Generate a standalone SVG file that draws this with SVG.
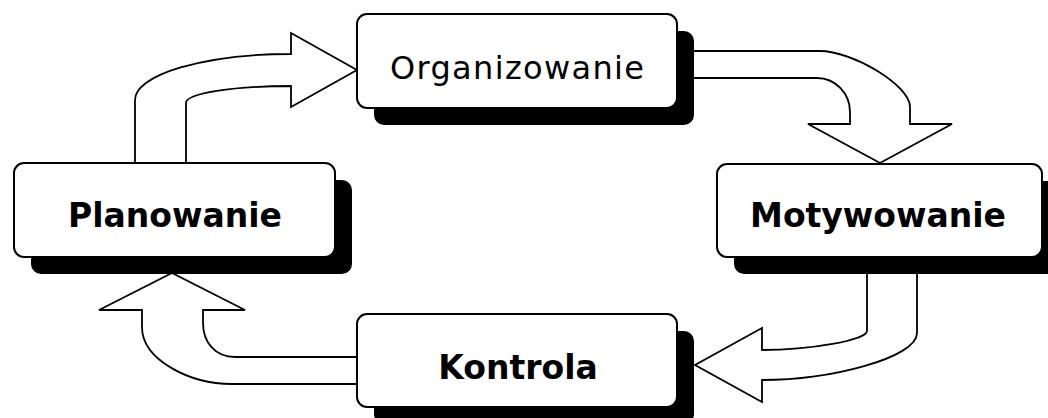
<svg xmlns="http://www.w3.org/2000/svg" width="1048" height="418" viewBox="0 0 1048 418">
<style>
.box{fill:#fff;stroke:#000;stroke-width:2}
.shadow{fill:#000}
.arrow{fill:#fff;stroke:#000;stroke-width:1.8;stroke-linejoin:miter}
.lbl{font-family:"DejaVu Sans","Liberation Sans",sans-serif;font-weight:bold;font-size:33px;text-anchor:middle;fill:#000}
.lbl2{font-family:"DejaVu Sans","Liberation Sans",sans-serif;font-size:32px;text-anchor:middle;fill:#000}
</style>
<rect width="1048" height="418" fill="#fff"/>
<g id="connectors">
<path class="arrow" d="M135,170 L135,100 A156,46 0 0 1 291,54 L291,33 L357,70 L291,107 L291,86 A105,17 0 0 0 186,103 L186,170"/>
<path class="arrow" d="M670,51 L820,51 C852,51 910,85 910,107 L910,124 L952,124 L880,163 L808,124 L850,124 L850,112 C850,93 835,78 817,78 L670,78"/>
<path class="arrow" d="M867,265 L867,331 C867,340 810,350 762,350 L762,328 L695,365 L762,402 L762,380 C830,380 917,358 917,333 L917,265"/>
<path class="arrow" d="M365,384 L232,384 C190,384 142,360 142,327 L142,310 L99,310 L172,273 L245,310 L203,310 L203,323 C203,342 215,357 235,357 L365,357"/>
</g>
<g id="node-planowanie">
<rect class="shadow" x="31" y="180" width="321" height="94" rx="10"/>
<rect class="box" x="14" y="163" width="321" height="94" rx="10"/>
<text class="lbl" x="175" y="227">Planowanie</text>
</g>
<g id="node-organizowanie">
<rect class="shadow" x="374" y="31" width="320" height="94" rx="10"/>
<rect class="box" x="357" y="14" width="320" height="94" rx="10"/>
<text class="lbl2" x="517" y="79" textLength="254">Organizowanie</text>
</g>
<g id="node-motywowanie">
<rect class="shadow" x="734" y="181" width="325" height="93" rx="10"/>
<rect class="box" x="717" y="164" width="325" height="93" rx="10"/>
<text class="lbl" x="878" y="227">Motywowanie</text>
</g>
<g id="node-kontrola">
<rect class="shadow" x="374" y="331" width="320" height="93" rx="10"/>
<rect class="box" x="357" y="314" width="320" height="93" rx="10"/>
<text class="lbl" x="518" y="379">Kontrola</text>
</g>
</svg>
